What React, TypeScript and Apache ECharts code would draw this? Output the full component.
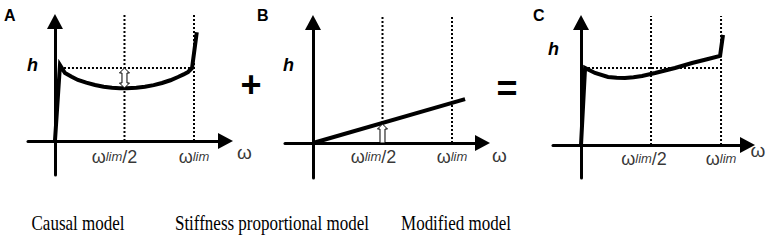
import React, { useEffect, useRef } from 'react';
import * as echarts from 'echarts';

// ---- data ----
const panelLetters = ['A', 'B', 'C'];
const captions = ['Causal model', 'Stiffness proportional model', 'Modified model'];
const tickValues = [0.5, 1];
const tickTexts = ['{w|ω}{s|lim}{w|/2}', '{w|ω}{s|lim}'];
const axisName = 'ω';
const yName = 'h';
const referenceLevel = 1;

// A: causal model curve (x in units of ω_lim, y in units of reference level)
const causalCurve = [
  [0, 0], [0.036, 1.04], [0.072, 0.93], [0.12, 0.88], [0.165, 0.836], [0.225, 0.8], [0.288, 0.767],
  [0.35, 0.743], [0.41, 0.728], [0.465, 0.724], [0.518, 0.724], [0.585, 0.73], [0.647, 0.742],
  [0.71, 0.765], [0.77, 0.795], [0.83, 0.832], [0.885, 0.877], [0.925, 0.912], [0.957, 0.945],
  [0.986, 1.0], [1.02, 1.49],
];
// B: stiffness proportional line
const stiffnessLine = [[0, 0], [1.094, 0.6]];
// C: modified model curve
const modifiedCurve = [
  [0, 0], [0.029, 1.0], [0.1, 0.935], [0.193, 0.883], [0.255, 0.872], [0.314, 0.87], [0.375, 0.88],
  [0.436, 0.896], [0.529, 0.935], [0.6, 0.968], [0.671, 1.0], [0.793, 1.065], [0.907, 1.117],
  [0.993, 1.156], [1.014, 1.43],
];
// dotted guide lines
const guideTops = [1.74, 1.74, 1.675];
const levelStartA = 0.036;
const levelStartC = 0.05;
// hollow arrows: [x, from, to, doubleHeaded]
const causalGap = [[0.5, 1, 0.726, 1]];
const stiffnessGap = [[0.5, 0, 0.26, 0]];

// ---- layout / style ----
const grids = [
  { left: 28, top: 21.5, width: 197.5, height: 153.5 },
  { left: 285, top: 22.5, width: 197.5, height: 155.5 },
  { left: 553, top: 22.5, width: 194.5, height: 155.5 },
];
const xRanges = [[-0.194, 1.2266], [-0.2014, 1.2194], [-0.2, 1.189]];
const yRanges = [[-0.466, 1.637], [-0.4795, 1.6507], [-0.4286, 1.591]];
const nameOffsets = [[11.5, 11.5], [9.5, 12.5], [3, 6]];
const tickDistances = [6.7, 5, 5];
const halfLabelShift = [-10, -9, -7];
const BLACK = '#000';
const SANS = '"Liberation Sans", Arial, sans-serif';

function hollowArrow(params: any, api: any) {
  const x = api.value(0);
  const a = api.coord([x, api.value(1)]);
  const b = api.coord([x, api.value(2)]);
  const both = api.value(3);
  const cx = a[0];
  const top = Math.min(a[1], b[1]);
  const bot = Math.max(a[1], b[1]);
  const hw = 5, sw = 2.5, hh = 5;
  const pts = both
    ? [[cx, top], [cx + hw, top + hh], [cx + sw, top + hh], [cx + sw, bot - hh], [cx + hw, bot - hh], [cx, bot],
       [cx - hw, bot - hh], [cx - sw, bot - hh], [cx - sw, top + hh], [cx - hw, top + hh]]
    : [[cx, top], [cx + hw, top + hh], [cx + sw, top + hh], [cx + sw, bot], [cx - sw, bot], [cx - sw, top + hh],
       [cx - hw, top + hh]];
  return {
    type: 'polygon',
    shape: { points: pts },
    style: { fill: '#fff', stroke: BLACK, lineWidth: 1 },
  };
}

function dotted(name: string, idx: number, data: number[][]) {
  return {
    name, type: 'line', xAxisIndex: idx, yAxisIndex: idx, data,
    symbol: 'none', clip: false, silent: true, z: 1,
    lineStyle: { color: BLACK, width: 2, type: [2, 2] },
  };
}

function solid(name: string, idx: number, data: number[][]) {
  return {
    name, type: 'line', xAxisIndex: idx, yAxisIndex: idx, data,
    symbol: 'none', clip: false, silent: true, z: 3,
    lineStyle: { color: BLACK, width: 4, join: 'miter' },
  };
}

const richTick = {
  w: { fontSize: 18, fontFamily: SANS, color: BLACK },
  s: { fontSize: 13, fontStyle: 'italic', fontFamily: SANS, color: BLACK },
};

function tickLabelSeries(idx: number) {
  return {
    name: 'ticks ' + idx, type: 'scatter', xAxisIndex: idx, yAxisIndex: idx, symbolSize: 0, silent: true, z: 5,
    data: tickValues.map((v, k) => ({
      value: [v, 0],
      label: {
        show: true, position: 'bottom', distance: tickDistances[idx],
        offset: [k === 0 ? halfLabelShift[idx] : 0, 0],
        formatter: tickTexts[k], rich: richTick, color: BLACK,
      },
    })),
  };
}

function axisNameSeries(idx: number) {
  return {
    name: 'axis name ' + idx, type: 'scatter', xAxisIndex: idx, yAxisIndex: idx, symbolSize: 0, silent: true, z: 5,
    data: [{
      value: [xRanges[idx][1], 0],
      label: {
        show: true, position: nameOffsets[idx], align: 'left', verticalAlign: 'middle',
        formatter: axisName, fontSize: 19, fontFamily: SANS, color: BLACK,
      },
    }],
  };
}

export default function App() {
  const ref = useRef<HTMLDivElement>(null);
  useEffect(() => {
    if (!ref.current) return;
    const chart = echarts.init(ref.current, null, { renderer: 'svg' });

    const axisLine = { onZero: true, lineStyle: { color: BLACK, width: 3 }, symbol: ['none', 'triangle'], symbolSize: [16, 15] };
    const xAxis = grids.map((_, i) => ({
      gridIndex: i, type: 'value', min: xRanges[i][0], max: xRanges[i][1],
      axisLine, axisTick: { show: false }, splitLine: { show: false }, axisLabel: { show: false },
    }));
    const yAxis = grids.map((_, i) => ({
      gridIndex: i, type: 'value', min: yRanges[i][0], max: yRanges[i][1],
      axisLine, axisTick: { show: false }, splitLine: { show: false }, axisLabel: { show: false },
    }));

    const series: any[] = [
      dotted('A half', 0, [[tickValues[0], 0], [tickValues[0], guideTops[0]]]),
      dotted('A lim', 0, [[tickValues[1], 0], [tickValues[1], guideTops[0]]]),
      dotted('A level', 0, [[levelStartA, referenceLevel], [tickValues[1], referenceLevel]]),
      dotted('B half', 1, [[tickValues[0], 0], [tickValues[0], guideTops[1]]]),
      dotted('B lim', 1, [[tickValues[1], 0], [tickValues[1], guideTops[1]]]),
      dotted('C half', 2, [[tickValues[0], 0], [tickValues[0], guideTops[2]]]),
      dotted('C lim', 2, [[tickValues[1], 0], [tickValues[1], guideTops[2]]]),
      dotted('C level', 2, [[levelStartC, referenceLevel], [tickValues[1], referenceLevel]]),
      solid('Causal model', 0, causalCurve),
      solid('Stiffness proportional model', 1, stiffnessLine),
      solid('Modified model', 2, modifiedCurve),
      { type: 'custom', xAxisIndex: 0, yAxisIndex: 0, data: causalGap, renderItem: hollowArrow, z: 4, clip: false, silent: true },
      { type: 'custom', xAxisIndex: 1, yAxisIndex: 1, data: stiffnessGap, renderItem: hollowArrow, z: 4, clip: false, silent: true },
      tickLabelSeries(0), tickLabelSeries(1), tickLabelSeries(2),
      axisNameSeries(0), axisNameSeries(1), axisNameSeries(2),
    ];

    const letterPos = [[4, 7], [257, 7], [533, 7]];
    const hPos = [[27, 56], [283, 56], [548, 40]];
    const captionX = [78, 272, 456];
    const graphic: any[] = [];
    panelLetters.forEach((t, i) => {
      graphic.push({ type: 'text', x: letterPos[i][0], y: letterPos[i][1], style: { text: t, fill: BLACK, font: 'bold 16px "Liberation Sans"', textVerticalAlign: 'top' } });
      graphic.push({ type: 'text', x: hPos[i][0], y: hPos[i][1], style: { text: yName, fill: BLACK, font: 'italic bold 18px "Liberation Sans"', textVerticalAlign: 'top' } });
    });
    captions.forEach((t, i) => {
      graphic.push({ type: 'text', x: captionX[i], y: 223, scaleX: 0.85, style: { text: t, fill: BLACK, font: '20px "Liberation Serif"', textAlign: 'center', textVerticalAlign: 'middle' } });
    });
    graphic.push({ type: 'text', x: 251, y: 84, style: { text: '+', fill: BLACK, font: 'bold 36px "Liberation Sans"', textAlign: 'center', textVerticalAlign: 'middle' } });
    graphic.push({ type: 'text', x: 507, y: 88, style: { text: '=', fill: BLACK, font: 'bold 36px "Liberation Sans"', textAlign: 'center', textVerticalAlign: 'middle' } });

    chart.setOption({
      animation: false,
      backgroundColor: '#fff',
      grid: grids.map((g) => ({ ...g, containLabel: false })),
      xAxis, yAxis, series, graphic,
    });
    return () => chart.dispose();
  }, []);
  return <div ref={ref} style={{ position: 'fixed', left: 0, top: 0, width: 767, height: 244, background: '#fff' }} />;
}
